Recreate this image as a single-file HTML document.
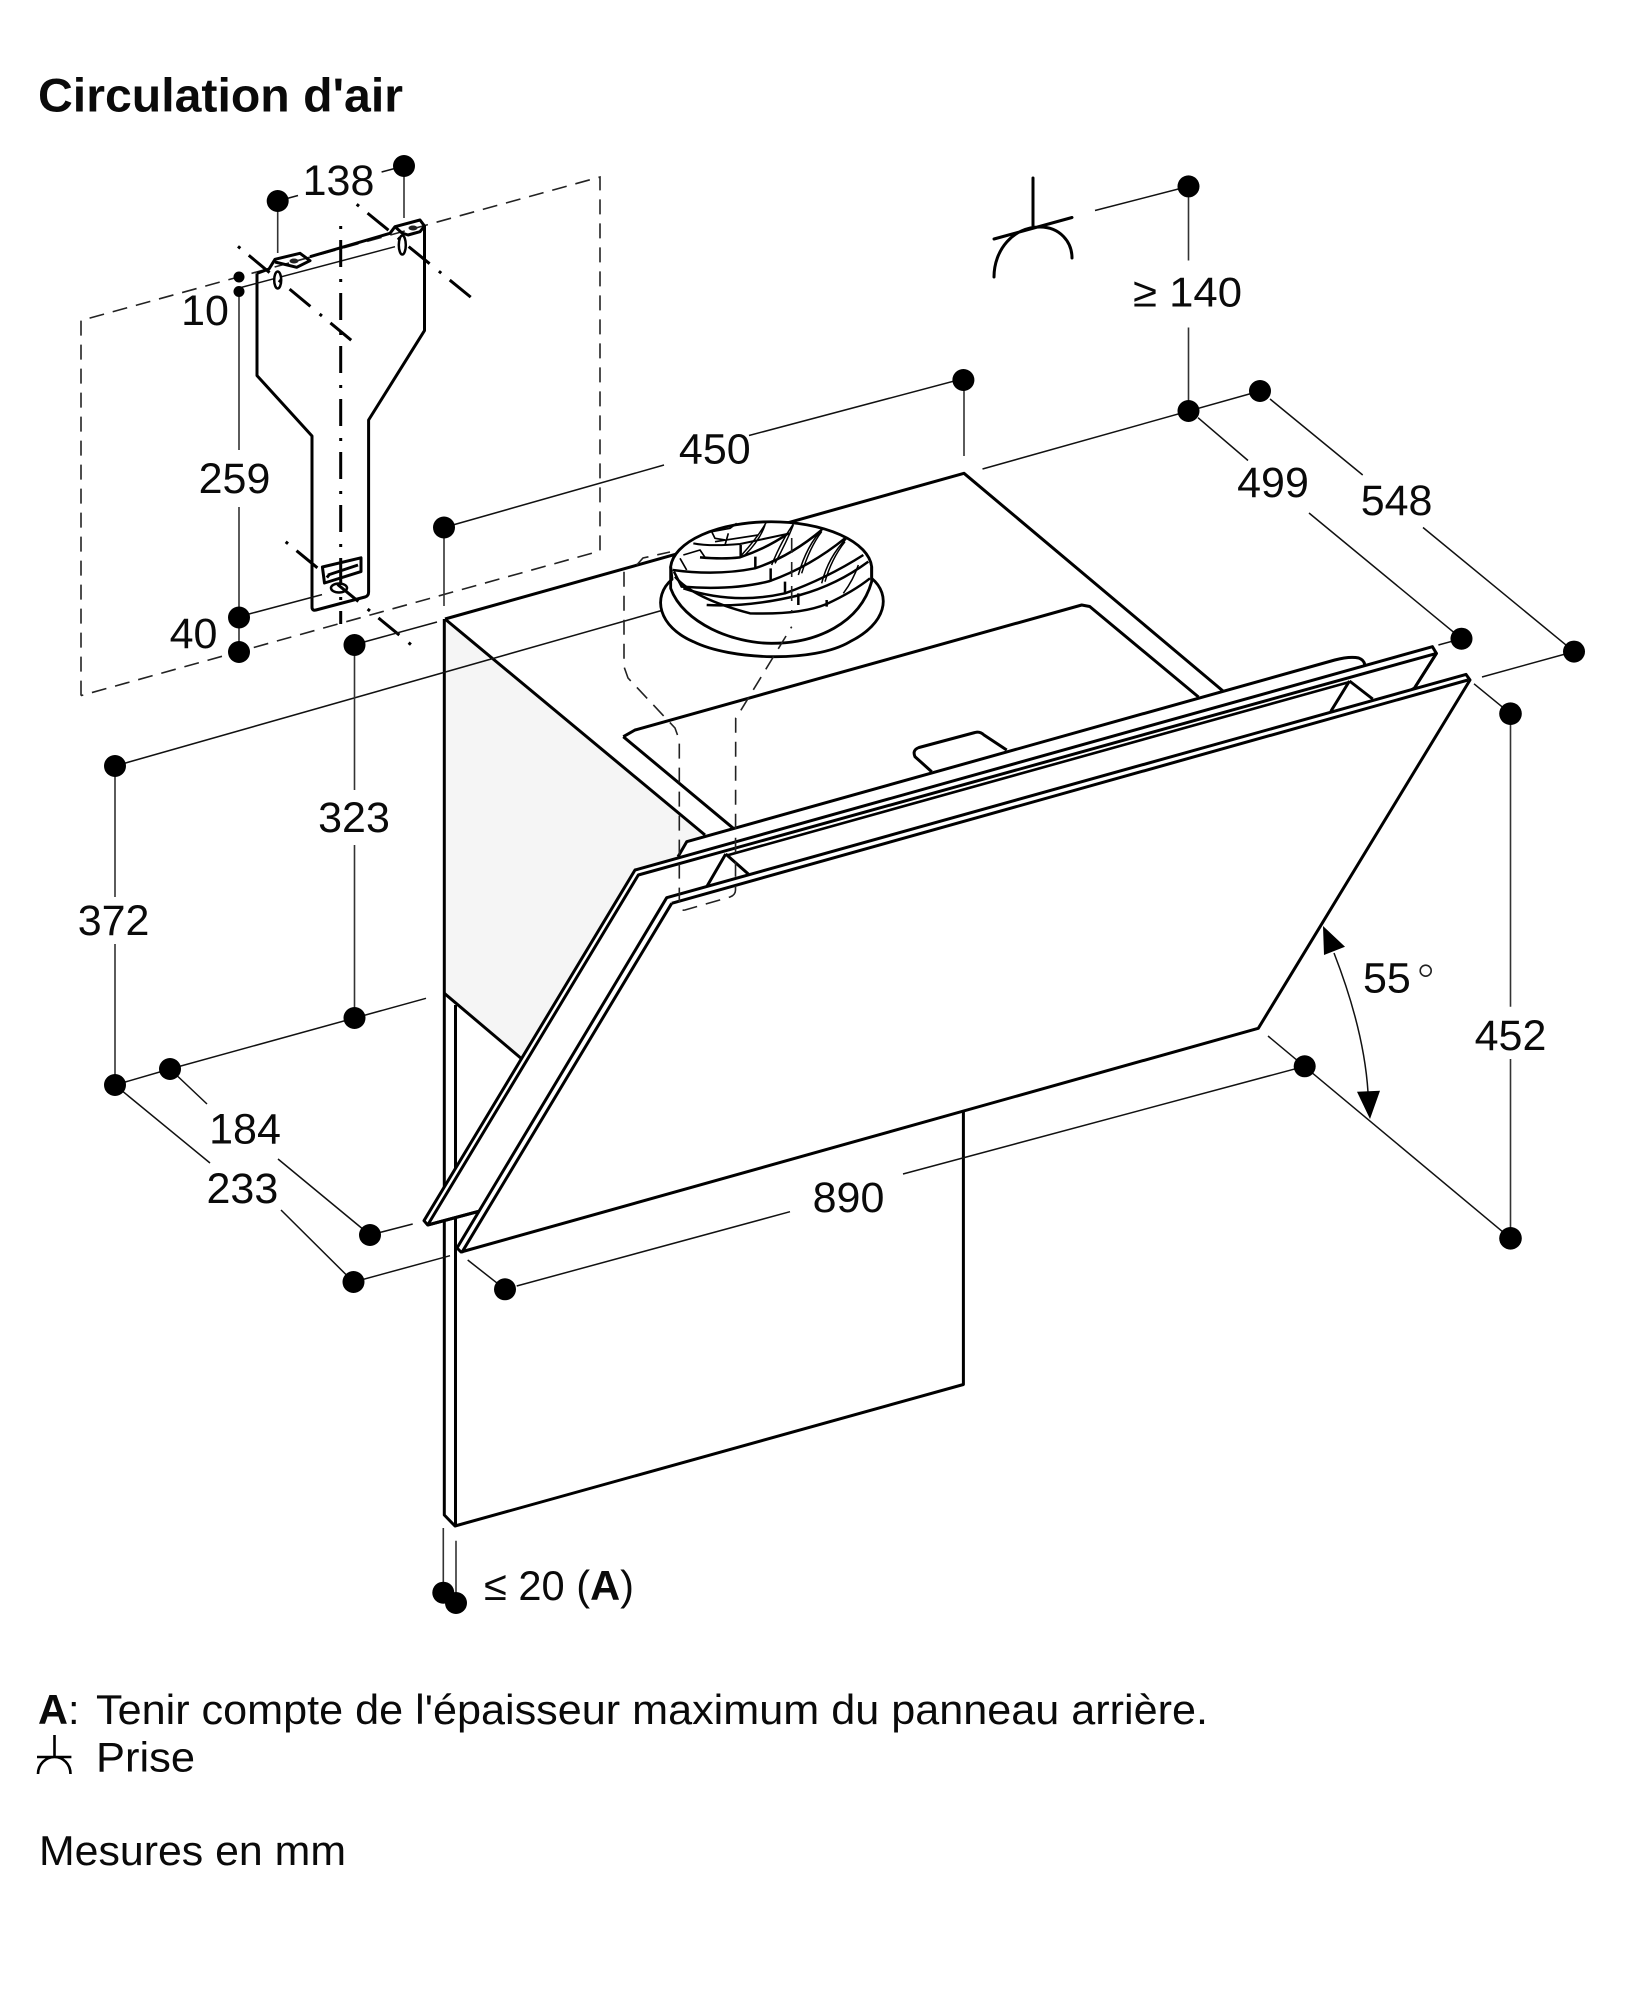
<!DOCTYPE html>
<html lang="fr">
<head>
<meta charset="utf-8">
<title>Circulation d'air</title>
<style>
html,body{margin:0;padding:0;background:#fff}
svg{display:block}
text{font-family:"Liberation Sans",Arial,sans-serif;fill:#0a0a0a;font-size:43px}
.m{text-anchor:middle}
.b{font-size:41.5px}
.t{stroke:#111;stroke-width:1.5;fill:none}
.v{stroke:#333;stroke-width:1.6;fill:none}
.k{stroke:#000;stroke-width:3;fill:none;stroke-linejoin:round}
.kf{stroke:#000;stroke-width:3;fill:#fff;stroke-linejoin:round}
.d{stroke:#222;stroke-width:1.6;fill:none;stroke-dasharray:15 9}
.c{stroke:#000;stroke-width:3;fill:none;stroke-dasharray:3 11 27 12}
</style>
</head>
<body>
<svg width="1625" height="2000" viewBox="0 0 1625 2000" xmlns="http://www.w3.org/2000/svg">
<rect width="1625" height="2000" fill="#fff"/>

<text x="38" y="111.5" font-weight="700" style="font-size:47.5px" textLength="365" lengthAdjust="spacingAndGlyphs">Circulation d'air</text>

<!-- wall dashed -->
<path class="d" d="M81,695.6 L81,320.5 L600,177 L600,551 L81,695.6"/>

<!-- bracket -->
<path class="k" d="M257,273.3 L257,375.6 L312,436 L312,607 Q312,611 316,610 L365,597 Q368.6,596 368.6,592 L368.6,420 L424.5,330.6 L424.5,226 L420,220 L395,226.7 L390,233.3 L310,256.7"/>
<path class="k" d="M257,273.3 L269,269 L275,259.3 L300,253.3 L310,260.7 L296.7,267.3 L275,262 M395,226.7 L402,233 L408,235 L420,231.7 L424.5,226"/>
<path class="t" d="M239,288 L395,246.7"/>
<ellipse cx="277.7" cy="280" rx="3.5" ry="8.5" fill="#fff" stroke="#000" stroke-width="2.5"/>
<ellipse cx="402.3" cy="245" rx="3.5" ry="9.5" fill="#fff" stroke="#000" stroke-width="2.5"/>
<ellipse cx="294" cy="261" rx="4.5" ry="2.5" fill="#222"/>
<ellipse cx="413" cy="228" rx="4.5" ry="2.5" fill="#222"/>
<path class="k" d="M322.4,567 L361,557.8 L361,571.6 L324.5,583 Z M328,575 L358,565"/>
<ellipse cx="339" cy="588" rx="8" ry="4.5" fill="none" stroke="#000" stroke-width="2.5"/>
<path class="c" d="M340.7,226 L340.7,624"/>
<path class="c" d="M238,246.4 L351.8,340.7"/>
<path class="c" d="M356.7,204.3 L473.5,299.4"/>
<path class="c" d="M285.7,541.8 L411.4,645"/>

<!-- bracket dims -->
<path class="t" d="M277.7,201 L298,195.5 M381.6,172 L404,166"/>
<path class="v" d="M277.7,201 L277.7,253 M404,166 L404,218"/>
<path class="v" d="M239,291 L239,450 M239,507 L239,652"/>
<path class="t" d="M249,614 L322,594.6"/>
<circle cx="277.7" cy="201" r="11"/><circle cx="404" cy="166" r="11"/>
<circle cx="239" cy="277" r="5.5"/><circle cx="239" cy="291.5" r="5.5"/>
<circle cx="239" cy="617.5" r="11"/><circle cx="239" cy="652" r="11"/>
<text class="m" x="338.5" y="195">138</text>
<text class="m" x="205" y="325">10</text>
<text class="m" x="234.5" y="493">259</text>
<text class="m" x="193.5" y="648">40</text>

<!-- hood side shade -->
<polygon points="445,619 705,835 686.7,841.7 678,856.7 635,870 520.7,1058 444.3,993.3" fill="#f5f5f5"/>
<!-- back panel -->
<path class="k" d="M444.3,619 L444.3,1515 L455,1526 L963.4,1384.5 L963.4,1105"/>
<path class="k" d="M455.5,1005 L455.5,1526"/>
<path class="k" d="M444.3,993.3 L520.7,1058"/>
<!-- hood top -->
<path class="k" d="M445,619 L964,473.3 L1223,691"/>
<path class="k" d="M445,619 L705,835"/>
<path class="k" d="M623.3,736.7 L635,730 L1081.7,605 L1089.7,606.5 L1198.5,697"/>
<path class="k" d="M623.3,736.7 L733.3,828.3"/>
<path class="k" d="M931.7,771.7 L915,756.7 Q912,750 919,747.5 L975,732.5 Q980,731 984,735 L1006.7,750"/>
<path class="k" d="M678,856.7 L686.7,841.7 L1334.8,660 Q1350,656 1358.7,658 Q1364,660 1364.7,664.5"/>

<!-- dim lines behind fan -->
<path class="t" d="M115,766 L688,603"/>

<!-- fan -->
<g transform="translate(650,500) scale(.33333)" fill="none" stroke="#000" stroke-width="7.5" stroke-linejoin="round">
<path stroke-width="8.5" fill="#fff" d="M66,238 C5,290 25,380 130,425 C240,480 490,490 600,425 C710,370 725,285 665,235 L665,200 A302,143 0 0 0 62,200 Z"/>
<path stroke-width="8.5" d="M62,200 L62,265 C100,370 250,430 365,430 C500,430 630,370 665,245 L665,200"/>
<path d="M150,172 Q220,178 270,172 Q350,145 415,100"/>
<path d="M68,210 Q200,228 315,205 Q420,170 515,90"/>
<path d="M72,215 L95,260 Q250,272 360,243 Q480,200 585,115"/>
<path d="M100,265 Q250,315 405,280 Q530,235 640,165"/>
<path d="M170,315 Q300,322 450,285 Q560,255 655,185"/>
<path d="M75,230 Q130,295 300,340 Q450,345 530,312 Q610,275 660,235"/>
<path d="M272,135 L272,170 M316,170 L316,205 M362,205 L362,245 M405,245 L405,280 M445,280 L445,315 M530,300 L530,320"/>
<path d="M130,130 Q180,140 270,132 L420,100" stroke-width="6"/>
<path d="M185,95 L240,85 L260,70 M185,95 L195,115 L225,120 M225,135 L235,100 M195,125 L325,105" stroke-width="5"/>
<path d="M100,165 L150,150 L165,172 M90,175 L110,210" stroke-width="5"/>
<path d="M275,165 Q325,110 350,65 M285,165 Q330,120 345,75" stroke-width="4.5"/>
<path d="M365,195 Q395,120 435,65 M375,190 Q410,125 430,75" stroke-width="4.5"/>
<path d="M445,225 Q470,135 520,85 M455,220 Q480,140 515,95" stroke-width="4.5"/>
<path d="M515,250 Q535,170 590,115 M525,245 Q545,175 585,125" stroke-width="4.5"/>
<path d="M580,280 Q610,240 625,195" stroke-width="4.5"/>
</g>

<!-- back glass -->
<polygon class="kf" points="635,870 1432.4,646.7 1436.4,653.4 1414.5,688 480,1211 427.7,1225 424,1220.7"/>
<path fill="#fff" stroke="none" d="M640,877 L1430,656 L1410,690 L480,1208 L432,1222 Z"/>
<path class="k" d="M427.7,1225 L638.3,875 L1436.4,653.4 L1414.5,688"/>
<path class="k" d="M427.7,1225 L480,1211"/>
<path stroke="#000" stroke-width="2.6" fill="none" d="M726.7,855.5 L1349.5,682"/>
<path class="k" d="M725.7,854 L706.7,886.7 M725.7,854 L748.3,874 M1349.5,681 L1330.8,711.4 M1349.5,681 L1372.7,699"/>

<!-- front glass -->
<polygon class="kf" points="666.7,897.7 1466,674.4 1470,680 1258.3,1028.3 461,1252 457,1248"/>
<path class="k" d="M671.7,903.3 L1468,680 M671.7,903.3 L461.7,1252.7"/>

<!-- ducts dashed -->
<path class="d" d="M624,571.7 L624,666.7 L628,678 L675,728 L679.3,740 L679.3,905 Q679.3,911 685,910 L730,897 Q735.5,895 735.5,890 L735.7,718 L738,715 L791.7,626.7"/>
<path class="d" d="M636.7,565 L643,558 L670,552"/>
<path class="d" d="M791.7,538 L791.7,612"/>

<!-- socket symbol -->
<path stroke="#000" stroke-width="3" fill="none" stroke-linecap="round" d="M1033,178 L1033,227 M994,239 L1072,217.5 M994,277 C994,250 1013,227 1040,227 C1060,227 1072,242 1072,258"/>

<!-- right dims -->
<path class="t" d="M1095,210.5 L1188.5,186.4"/>
<path class="v" d="M1188.5,186.4 L1188.5,260.5 M1188.5,327.5 L1188.5,411"/>
<path class="t" d="M982.5,469 L1260,391"/>
<path class="t" d="M1198,417.7 L1248,460.5 M1309,513 L1461.5,638.7"/>
<path class="t" d="M1270,399 L1362.7,475 M1423,527.5 L1574,651.6"/>
<path class="t" d="M1482,677 L1574,651.6 M1438.4,645 L1461.5,638.7"/>
<path class="t" d="M1474,683.8 L1510.5,713.7"/>
<path class="v" d="M1510.5,713.7 L1510.5,1006.7 M1510.5,1059 L1510.5,1238.3"/>
<path class="t" d="M1268,1036 L1510.5,1238.3"/>
<path class="t" d="M516.7,1286 L790,1211.7 M903,1174 L1304.7,1066.3"/>
<path class="t" d="M467.7,1260 L505,1289.3"/>
<path class="t" d="M664,465 L444,527.5 M749,435.5 L963.4,378.6"/>
<path class="v" d="M444,527.5 L444,606 M964,378.6 L964,456"/>
<path class="t" d="M353,645 L437,622"/>
<path class="v" d="M354.5,645 L354.5,790 M354.5,845 L354.5,1018"/>
<path class="t" d="M170,1069 L426,998.3"/>
<path class="v" d="M115,766 L115,897 M115,944 L115,1085"/>
<path class="t" d="M115,1085 L170,1069"/>
<path class="t" d="M170,1069 L207,1104 M278,1159 L370,1235"/>
<path class="t" d="M115,1085 L210,1163 M281,1210 L353.5,1282"/>
<path class="t" d="M370,1235 L412.7,1224 M353.5,1282 L450,1255.7"/>
<path class="v" d="M443.3,1528 L443.3,1592.7 M456,1540.7 L456,1603"/>

<!-- angle arc -->
<path class="t" d="M1334,953 Q1364,1030 1368,1092" stroke-width="1.8"/>
<polygon points="1323,926 1324,955 1345,946.7"/>
<polygon points="1370,1119 1357,1091.7 1380,1090.7"/>

<!-- dots -->
<g>
<circle cx="1188.5" cy="186.4" r="11"/><circle cx="1188.5" cy="411" r="11"/>
<circle cx="1260" cy="391" r="11"/><circle cx="1461.5" cy="638.7" r="11"/>
<circle cx="1574" cy="651.6" r="11"/><circle cx="1510.5" cy="713.7" r="11.3"/>
<circle cx="1510.5" cy="1238.3" r="11.3"/><circle cx="1304.7" cy="1066.3" r="11"/>
<circle cx="505" cy="1289.3" r="11"/>
<circle cx="444" cy="527.5" r="11"/><circle cx="963.4" cy="380" r="11"/>
<circle cx="354.5" cy="645" r="11"/><circle cx="354.5" cy="1018" r="11"/>
<circle cx="115" cy="766" r="11"/><circle cx="115" cy="1085" r="11"/>
<circle cx="170" cy="1069" r="11"/><circle cx="370" cy="1235" r="11"/>
<circle cx="353.5" cy="1282" r="11"/>
<circle cx="443.3" cy="1592.7" r="11"/><circle cx="456" cy="1603" r="11"/>
</g>

<!-- labels -->
<text class="m" x="714.8" y="463.3">450</text>
<text class="b" x="1133" y="306.5" textLength="109" lengthAdjust="spacingAndGlyphs">≥ 140</text>
<text class="m" x="1273" y="497">499</text>
<text class="m" x="1396.6" y="515">548</text>
<text class="m" x="1510.5" y="1050">452</text>
<text x="1363" y="992.7">55</text>
<circle cx="1425.7" cy="970.7" r="5.5" fill="none" stroke="#222" stroke-width="1.6"/>
<text class="m" x="848.5" y="1212">890</text>
<text class="m" x="113.6" y="935">372</text>
<text class="m" x="354" y="832">323</text>
<text class="m" x="245" y="1143.6">184</text>
<text class="m" x="242.4" y="1203">233</text>
<text class="b" x="484" y="1600" textLength="150" lengthAdjust="spacingAndGlyphs">≤ 20 (<tspan font-weight="700">A</tspan>)</text>

<text class="b" x="38" y="1724"><tspan font-weight="700">A</tspan>:</text>
<text class="b" x="96" y="1724" textLength="1112" lengthAdjust="spacingAndGlyphs">Tenir compte de l'épaisseur maximum du panneau arrière.</text>
<text class="b" x="96" y="1771.7" textLength="99" lengthAdjust="spacingAndGlyphs">Prise</text>
<path stroke="#000" stroke-width="2.6" fill="none" d="M54.5,1735 L54.5,1757 M37,1757 L71.4,1757 M38,1774 C38,1764 46,1757 54.5,1757 C63,1757 70.5,1764 70.5,1774"/>
<text class="b" x="39" y="1865" textLength="307" lengthAdjust="spacingAndGlyphs">Mesures en mm</text>
</svg>
</body>
</html>
